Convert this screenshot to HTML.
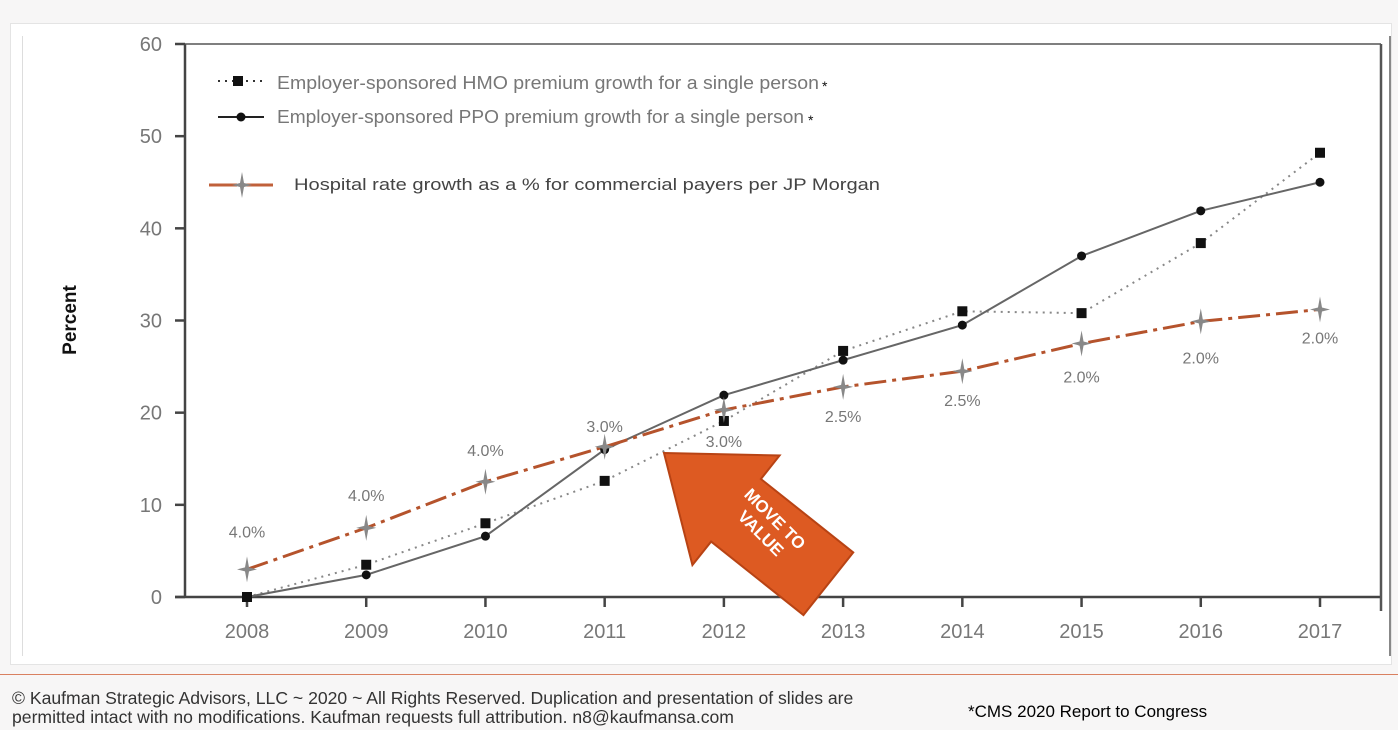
<!DOCTYPE html>
<html><head><meta charset="utf-8"><style>
body{margin:0;width:1398px;height:730px;overflow:hidden;background:#f7f6f6;font-family:"Liberation Sans",sans-serif;position:relative}
#frame{position:absolute;left:10px;top:23px;width:1380px;height:640px;background:#fff;border:1px solid #e4e4e4}
#inner{position:absolute;left:22px;top:36px;width:1366px;height:620px;border-left:1px solid #ddd;border-right:2px solid #888}
#redline{position:absolute;left:0;top:674px;width:1398px;height:1px;background:#d98060}
.foot{position:absolute;font-size:17.6px;color:#333;line-height:19px}
</style></head><body>
<div id="frame"></div>
<div id="inner"></div>
<div id="redline"></div>
<div class="foot" style="left:12px;top:689px;white-space:nowrap">© Kaufman Strategic Advisors, LLC ~ 2020 ~ All Rights Reserved. Duplication and presentation of slides are<br>permitted intact with no modifications. Kaufman requests full attribution. n8@kaufmansa.com</div>
<div class="foot" style="left:968px;top:702px;color:#000;font-size:17px">*CMS 2020 Report to Congress</div>
<svg id="chart" width="1398" height="730" style="position:absolute;left:0;top:0"></svg>
<script>
const years=[2008,2009,2010,2011,2012,2013,2014,2015,2016,2017];
const hmo=[0,3.5,8,12.6,19.1,26.7,31,30.8,38.4,48.2];
const ppo=[0,2.4,6.6,16,21.9,25.7,29.5,37,41.9,45];
const hosp=[3,7.5,12.5,16.3,20.3,22.8,24.5,27.5,29.9,31.2];
const hospLabels=["4.0%","4.0%","4.0%","3.0%","3.0%","2.5%","2.5%","2.0%","2.0%","2.0%"];
const labelOffsets=[-38,-33,-32,-21,31,29,29,33,36,28];
const yTicks=[0,10,20,30,40,50,60];
const NS="http://www.w3.org/2000/svg";
const svg=document.getElementById('chart');
const X=i=>247+i*(1320-247)/9;
const Y=v=>597-v*(597-44)/60;
function mk(t,a,p){const e=document.createElementNS(NS,t);for(const k in a)e.setAttribute(k,a[k]);(p||svg).appendChild(e);return e;}
let ax=mk('line',{x1:185,y1:44,x2:185,y2:597,stroke:'#444','stroke-width':2.5});

let ax2=mk('line',{x1:175,y1:597,x2:1381,y2:597,stroke:'#444','stroke-width':2.5});

mk('line',{x1:185,y1:44,x2:1381,y2:44,stroke:'#555','stroke-width':1.5});
mk('line',{x1:1381,y1:44,x2:1381,y2:611,stroke:'#555','stroke-width':2.5});
yTicks.forEach(v=>{
 mk('line',{x1:175,y1:Y(v),x2:185,y2:Y(v),stroke:'#444','stroke-width':2.5});
 let t=mk('text',{x:162,y:Y(v)+7,'text-anchor':'end','font-size':20,fill:'#777'});t.textContent=v;
 
});
years.forEach((y,i)=>{
 mk('line',{x1:X(i),y1:597,x2:X(i),y2:607,stroke:'#444','stroke-width':2.5});
 let t=mk('text',{x:X(i),y:638,'text-anchor':'middle','font-size':20,fill:'#777'});t.textContent=y;
 
});
let yt=mk('text',{x:76,y:320,'text-anchor':'middle','font-size':19,'font-weight':'bold',fill:'#111',transform:'rotate(-90 76 320)'});yt.textContent='Percent';

const pts=a=>a.map((v,i)=>X(i)+','+Y(v)).join(' ');
let l1=mk('polyline',{points:pts(hmo),fill:'none',stroke:'#888','stroke-width':2,'stroke-dasharray':'2,5'});

let l2=mk('polyline',{points:pts(ppo),fill:'none',stroke:'#666','stroke-width':2});

let l3=mk('polyline',{points:pts(hosp),fill:'none',stroke:'#b5532c','stroke-width':3,'stroke-dasharray':'22,6,4,6'});

function star(cx,cy,p){return mk('path',{d:`M${cx} ${cy-13}L${cx+2} ${cy-2}L${cx+10} ${cy}L${cx+2} ${cy+2}L${cx} ${cy+13}L${cx-2} ${cy+2}L${cx-10} ${cy}L${cx-2} ${cy-2}Z`,fill:'#888'},p);}
hmo.forEach((v,i)=>{let r=mk('rect',{x:X(i)-5,y:Y(v)-5,width:10,height:10,fill:'#111'});
 });
ppo.forEach((v,i)=>{let c=mk('circle',{cx:X(i),cy:Y(v),r:4.5,fill:'#111'});
 });
hosp.forEach((v,i)=>{let s=star(X(i),Y(v));
 let t=mk('text',{x:X(i),y:Y(v)+labelOffsets[i]+6,'text-anchor':'middle','font-size':16,fill:'#777'});t.textContent=hospLabels[i];
 });
const lg=mk('g',{});
mk('line',{x1:218,y1:81,x2:262,y2:81,stroke:'#333','stroke-width':2,'stroke-dasharray':'2,5'},lg);
mk('rect',{x:233,y:76,width:10,height:10,fill:'#111'},lg);
let t1=mk('text',{x:277,y:89,'font-size':18,fill:'#777',textLength:542,lengthAdjust:'spacingAndGlyphs'},lg);t1.textContent='Employer-sponsored HMO premium growth for a single person';
let s1=mk('text',{x:822,y:91,'font-size':14,fill:'#111'},lg);s1.textContent='*';
mk('line',{x1:218,y1:117,x2:264,y2:117,stroke:'#222','stroke-width':2},lg);
mk('circle',{cx:241,cy:117,r:4.5,fill:'#111'},lg);
let t2=mk('text',{x:277,y:123,'font-size':18,fill:'#777',textLength:527,lengthAdjust:'spacingAndGlyphs'},lg);t2.textContent='Employer-sponsored PPO premium growth for a single person';
let s2=mk('text',{x:808,y:125,'font-size':14,fill:'#111'},lg);s2.textContent='*';
mk('line',{x1:209,y1:185,x2:276,y2:185,stroke:'#c0603a','stroke-width':3,'stroke-dasharray':'28,8'},lg);
star(242,185,lg);
let t3=mk('text',{x:294,y:190,'font-size':17,fill:'#444',textLength:586,lengthAdjust:'spacingAndGlyphs'},lg);t3.textContent='Hospital rate growth as a % for commercial payers per JP Morgan';
const ag=mk('g',{transform:'translate(664 453) rotate(38.5)'});
mk('polygon',{points:'0,0 92,-70 92,-40 210,-40 210,40 92,40 92,70',fill:'#dd5a22',stroke:'#b84314','stroke-width':2},ag);
let at=mk('text',{x:0,y:0,'text-anchor':'middle','font-size':17,'font-weight':'bold',fill:'#fff',transform:'translate(768 526) rotate(45)'});

let a1=mk('tspan',{x:0,dy:-4},at);a1.textContent='MOVE TO';
let a2=mk('tspan',{x:0,dy:20},at);a2.textContent='VALUE';
</script>
</body></html>
